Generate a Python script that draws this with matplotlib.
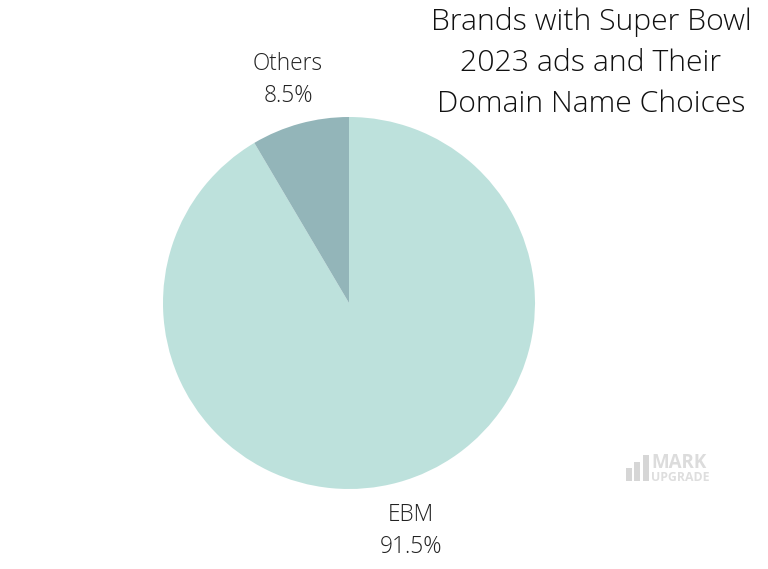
import matplotlib
matplotlib.use('Agg')
import matplotlib.pyplot as plt

labels = ['EBM', 'Others']
values = [91.5, 8.5]
colors = ['#bde1dc', '#93b5b9']
title_lines = 'Brands with Super Bowl\n2023 ads and Their\nDomain Name Choices'

plt.rcParams['font.family'] = ['Open Sans', 'DejaVu Sans']
W, H = 768, 569
fig = plt.figure(figsize=(W / 100, H / 100), dpi=100)

# pie centred at (349, 303), radius 186 px
ax = fig.add_axes([(349 - 186) / W, 1 - (303 + 186) / H, 372 / W, 372 / H])
ax.pie(values, colors=colors, startangle=90, counterclock=False, radius=1,
       wedgeprops=dict(linewidth=0))
ax.set_xlim(-1, 1)
ax.set_ylim(-1, 1)

fig.text(591 / W, 1 - 63 / H, title_lines, ha='center', va='center',
         fontsize=21.7, fontweight='light', color='#111111', linespacing=1.5)
fig.text(288 / W, 1 - 80 / H, 'Others\n8.5%', ha='center', va='center',
         fontsize=16.3, fontweight='light', color='#222222', linespacing=1.44)
fig.text(411 / W, 1 - 531 / H, 'EBM\n91.5%', ha='center', va='center',
         fontsize=16.3, fontweight='light', color='#222222', linespacing=1.44)

# watermark
bars_x = [626, 634, 643]
bars_h = [13, 19, 26]
wm = fig.add_axes([0, 0, 1, 1], facecolor='none')
wm.set_xlim(0, W)
wm.set_ylim(H, 0)
wm.axis('off')
wm.bar(bars_x, [-h for h in bars_h], width=5.5, bottom=481, align='edge', color='#d6d6d6')
wm.text(651, 467.5, 'MARK', fontsize=13.5, fontweight='bold', color='#dcdcdc', va='baseline')
wm.text(651, 481, 'UPGRADE', fontsize=8.8, fontweight='bold', color='#dedede', va='baseline')

fig.savefig('out.png', dpi=100)
